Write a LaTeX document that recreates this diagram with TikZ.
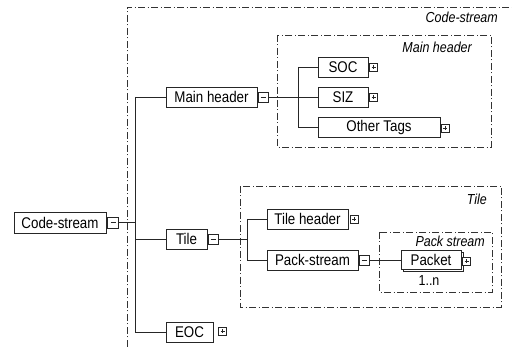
\documentclass[tikz,border=0pt]{standalone}
\usepackage{fontspec}
\setmainfont{Liberation Sans}
\newfontfamily\condfont[FakeStretch=0.86]{Liberation Sans}
\newfontfamily\condit[FakeStretch=0.86]{Liberation Sans Italic}
\begin{document}
\begin{tikzpicture}[x=1pt,y=-1pt,
  elem/.style={draw=black!85, line width=0.8pt, fill=white, inner sep=0pt, minimum height=20pt, font=\condfont\fontsize{15.5}{16}\selectfont},
  tog/.style={draw=black!85, line width=0.6pt, fill=white, inner sep=0pt, minimum size=#1},
  minus/.style={tog=10pt, path picture={\draw[line width=0.7pt] ([xshift=-2.5pt]path picture bounding box.center) -- ([xshift=2.5pt]path picture bounding box.center);}},
  plus/.style={tog=8pt, path picture={\draw[line width=0.6pt] ([xshift=-2pt]path picture bounding box.center) -- ([xshift=2pt]path picture bounding box.center) ([yshift=-2pt]path picture bounding box.center) -- ([yshift=2pt]path picture bounding box.center);}},
  grp/.style={draw=black!80, line width=0.6pt, dash pattern=on 7pt off 2.5pt on 1pt off 2.5pt},
  grplabel/.style={anchor=east, inner sep=0pt, font=\condit\fontsize{14.5}{15}\selectfont},
  conn/.style={draw=black!85, line width=0.8pt}]
\useasboundingbox (0,0) rectangle (512,347);

% group boxes
\draw[grp] (127,360) -- (127,7) -- (520,7);
\node[grplabel] (lcs) at (498,17) {Code-stream};
\draw[grp] (277,35) rectangle (491,147);
\node[grplabel] (lmh) at (472,47) {Main header};
\draw[grp] (240,186) rectangle (501,307);
\node[grplabel] (lt) at (487,199) {Tile};
\draw[grp] (379,232) rectangle (492,292);
\node[grplabel] (lps) at (485,241) {Pack stream};

% nodes
\node[elem, minimum width=92pt, minimum height=21pt] (cs) at (60,222.5) {Code-stream};
\node[minus, tog=11pt, anchor=west] (csm) at ([xshift=0.8pt]cs.east) {};

\node[elem, minimum width=91pt] (mh) at (211.5,97) {Main header};
\node[minus, anchor=west] (mhm) at ([xshift=0.5pt]mh.east) {};

\node[elem, minimum width=50pt] (soc) at (343,67) {SOC};
\node[plus] (socp) at (373.5,67) {};
\node[elem, minimum width=50pt] (siz) at (343,97) {SIZ};
\node[plus] (sizp) at (373.5,97) {};
\node[elem, minimum width=122pt] (ot) at (379,127) {Other Tags};
\node[plus] (otp) at (445,128) {};

\node[elem, minimum width=41pt] (tile) at (186.5,239) {Tile};
\node[minus, anchor=west] (tilem) at ([xshift=0.5pt]tile.east) {};

\node[elem, minimum width=81pt] (th) at (307.5,219) {Tile header};
\node[plus] (thp) at (354,219) {};
\node[elem, minimum width=91pt] (ps) at (312.5,260) {Pack-stream};
\node[minus, anchor=west] (psm) at ([xshift=0.5pt]ps.east) {};

\node[draw=black!85, line width=0.8pt, fill=white, minimum width=60pt, minimum height=19pt] (pktsh) at (433,262) {};
\node[elem, minimum width=60pt, minimum height=19pt] (pkt) at (431,260) {Packet};
\node[plus] (pktp) at (466.5,261) {};
\node[inner sep=0pt, font=\condfont\fontsize{14.5}{15}\selectfont] (mult) at (429,281) {1..n};

\node[elem, minimum width=47pt] (eoc) at (189.5,332) {EOC};
\node[plus] (eocp) at (222.5,331) {};

% connectors
\coordinate (tr) at (135,222.5);
\coordinate (trtop) at (135,97);
\coordinate (trbot) at (135,332);
\draw[conn] (csm.east) -- (tr);
\draw[conn] (trtop) -- (trbot);
\draw[conn] (trtop) -- (mh.west);
\draw[conn] (135,239) -- (tile.west);
\draw[conn] (trbot) -- (eoc.west);

\coordinate (mhj) at (298,97);
\draw[conn] (mhm.east) -- (siz.west);
\draw[conn] (298,67) -- (298,127);
\draw[conn] (298,67) -- (soc.west);
\draw[conn] (298,127) -- (ot.west);

\coordinate (tj) at (247,239);
\draw[conn] (tilem.east) -- (tj);
\draw[conn] (247,219) -- (247,260);
\draw[conn] (247,219) -- (th.west);
\draw[conn] (247,260) -- (ps.west);

\draw[conn] (psm.east) -- (pkt.west);
\end{tikzpicture}
\end{document}
